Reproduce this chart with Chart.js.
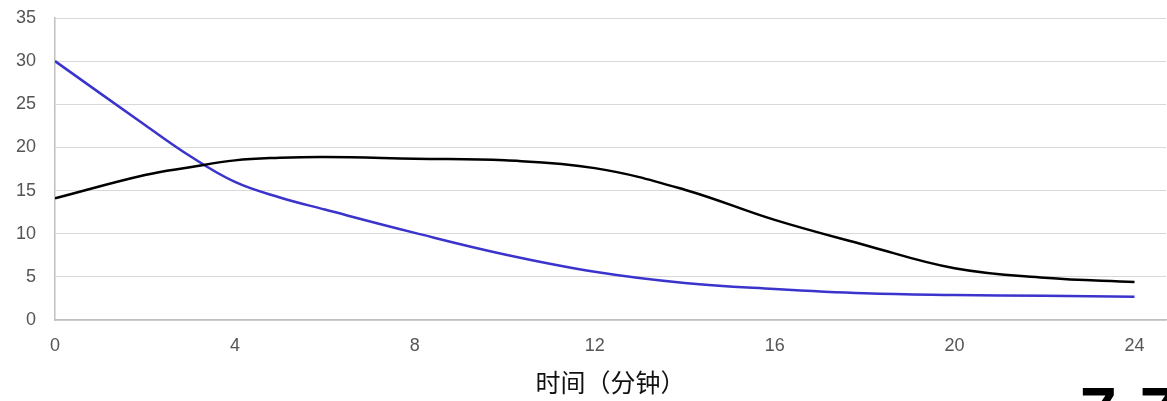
<!DOCTYPE html>
<html>
<head>
<meta charset="utf-8">
<script src="https://cdn.jsdelivr.net/npm/chart.js@4"></script>
<style>
  html, body { margin: 0; padding: 0; background: #fff; overflow: hidden; }
  #wrap { position: relative; width: 1167px; height: 401px; }
  #cut { position: absolute; left: 1080px; top: 378px; font: bold 66px/1 "Liberation Sans", Arial, sans-serif; color: #000; letter-spacing: 23px; white-space: nowrap; }
</style>
</head>
<body>
<div id="wrap">
  <canvas id="chart" width="1167" height="401"></canvas>
  <div id="cut">77</div>
</div>
<script>
const minutes = [0, 2, 3, 4, 5, 6, 8, 10, 12, 14, 16, 18, 20, 22, 24];
const blackSeries = [14.1, 16.8, 17.7, 18.5, 18.8, 18.9, 18.7, 18.5, 17.6, 15.1, 11.6, 8.7, 6.0, 4.9, 4.4];
const blueSeries = [30, 22.6, 19.0, 16.0, 14.2, 12.8, 10.1, 7.6, 5.6, 4.3, 3.6, 3.1, 2.9, 2.8, 2.7];
const xTicks = [0, 4, 8, 12, 16, 20, 24];
const yTicks = [0, 5, 10, 15, 20, 25, 30, 35];
const xTitle = '时间（分钟）';

const toPoints = ys => minutes.map((m, i) => ({ x: m, y: ys[i] }));

new Chart(document.getElementById('chart').getContext('2d'), {
  type: 'line',
  data: {
    datasets: [
      {
        label: 'black',
        data: toPoints(blackSeries),
        borderColor: '#000000',
        borderWidth: 2.5,
        pointRadius: 0,
        tension: 0.4
      },
      {
        label: 'blue',
        data: toPoints(blueSeries),
        borderColor: '#3a33cc',
        borderWidth: 2.5,
        pointRadius: 0,
        tension: 0.4
      }
    ]
  },
  options: {
    responsive: false,
    animation: false,
    layout: { padding: { top: 18, right: 1, left: 0, bottom: 0 } },
    plugins: { legend: { display: false }, tooltip: { enabled: false } },
    scales: {
      x: {
        type: 'linear',
        min: 0,
        max: 24.7,
        afterBuildTicks: s => { s.ticks = xTicks.map(v => ({ value: v })); },
        afterFit: s => { s.height = 81; s.paddingLeft = 0; s.paddingRight = 0; },
        ticks: {
          color: '#555',
          padding: 7,
          maxRotation: 0,
          font: { family: '"Liberation Sans", Arial, sans-serif', size: 18 }
        },
        grid: { display: false },
        border: { display: true, color: '#c0c0c0', width: 1.5 },
        title: {
          display: true,
          text: xTitle,
          color: '#111',
          padding: { top: 6 },
          font: { family: '"Noto Sans CJK SC", sans-serif', size: 25 }
        }
      },
      y: {
        min: 0,
        max: 35,
        afterBuildTicks: s => { s.ticks = yTicks.map(v => ({ value: v })); },
        afterFit: s => { s.width = 55; s.paddingTop = 0; s.paddingBottom = 0; },
        ticks: {
          color: '#555',
          padding: 19,
          font: { family: '"Liberation Sans", Arial, sans-serif', size: 18 }
        },
        grid: { color: '#d9d9d9', lineWidth: 1, drawTicks: false },
        border: { display: true, color: '#c0c0c0', width: 1.5 }
      }
    }
  }
});
</script>
</body>
</html>
